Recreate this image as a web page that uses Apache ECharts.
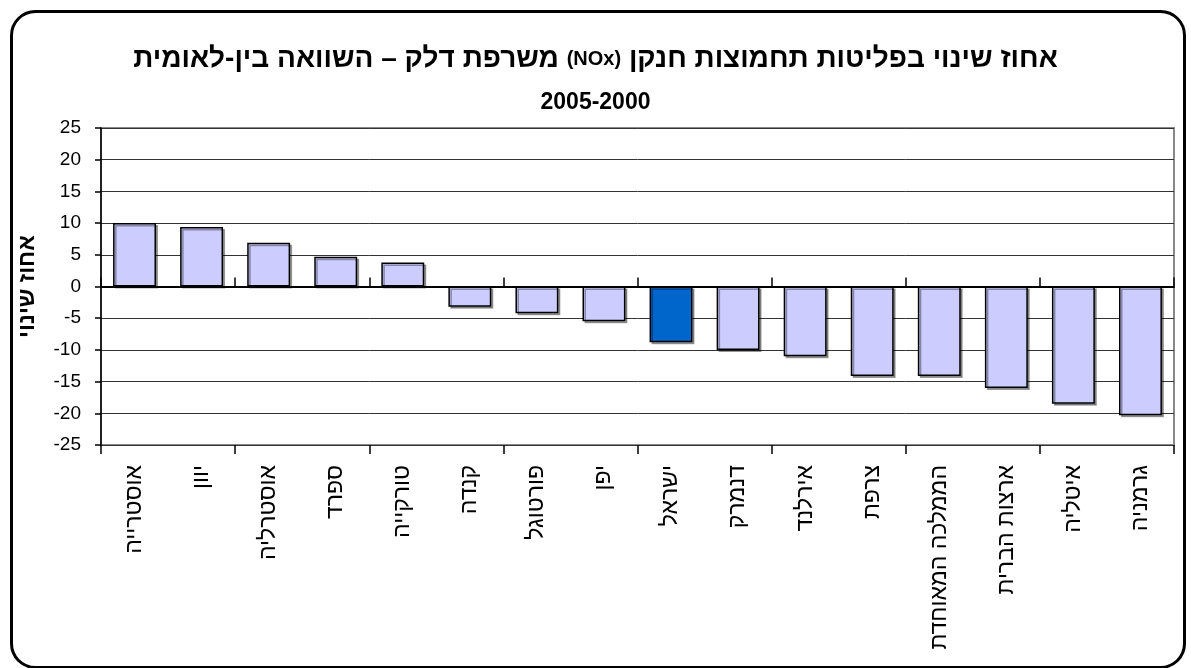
<!DOCTYPE html>
<html>
<head>
<meta charset="utf-8">
<script src="https://cdn.jsdelivr.net/npm/echarts@6/dist/echarts.min.js"></script>
<style>html,body{margin:0;padding:0;background:#fff;}#c{width:1191px;height:668px;}</style>
</head>
<body>
<div id="c"></div>
<script>
const categories = ['אוסטרייה','יוון','אוסטרליה','ספרד','טורקייה','קנדה','פורטוגל','יפן','ישראל','דנמרק','אירלנד','צרפת','הממלכה המאוחדת','ארצות הברית','איטליה','גרמניה'];
const values = [10.0, 9.4, 6.9, 4.7, 3.8, -3.2, -4.2, -5.5, -8.8, -10.0, -11.0, -14.1, -14.1, -16.0, -18.5, -20.3];
const highlighted = 'ישראל';
const titleRight = 'אחוז שינוי בפליטות תחמוצות חנקן';
const titleMid = '(NOx)';
const titleLeft = 'משרפת דלק – השוואה בין-לאומית';
const subtitle = '2005-2000';
const yName = 'אחוז שינוי';

const FONT = 'Liberation Sans, Arial, sans-serif';
const chart = echarts.init(document.getElementById('c'), null, {renderer: 'canvas'});
const barData = categories.map((c, i) => ({
  value: values[i],
  itemStyle: c === highlighted ? {color: '#0066CC'} : undefined
}));
const hiddenCat = {type: 'category', data: categories, position: 'bottom',
  axisLabel: {show: false}, splitLine: {show: false}};
chart.setOption({
  animation: false,
  backgroundColor: '#fff',
  graphic: [{
    type: 'rect', left: 9, top: 9, z: -1,
    shape: {width: 1173, height: 656, r: 24},
    style: {fill: 'none', stroke: '#000', lineWidth: 3}
  }],
  title: [{
    text: '{h|' + titleLeft + '} {n|' + titleMid + '} {h|' + titleRight + '}',
    left: 'center', top: 40,
    textStyle: {fontFamily: FONT, fontWeight: 'bold', fontSize: 28, color: '#000', rich: {
      h: {fontFamily: FONT, fontWeight: 'bold', fontSize: 28, color: '#000'},
      n: {fontFamily: FONT, fontWeight: 'bold', fontSize: 20, color: '#000'}
    }}
  }, {
    text: subtitle, left: 'center', top: 86,
    textStyle: {fontFamily: FONT, fontWeight: 'bold', fontSize: 23, color: '#000'}
  }],
  grid: {left: 101, right: 17, top: 128, bottom: 223, show: true, borderColor: '#888', borderWidth: 2, containLabel: false},
  xAxis: [
    {type: 'category', data: categories, position: 'bottom',
     axisLine: {show: false, onZero: false}, axisTick: {show: false},
     axisLabel: {rotate: 90, margin: 20, fontFamily: FONT, fontSize: 23, color: '#000', interval: 0},
     splitLine: {show: false}},
    Object.assign({}, hiddenCat, {axisLine: {show: true, onZero: true, lineStyle: {color: '#000', width: 2}},
      axisTick: {show: true, inside: true, length: 9, lineStyle: {color: '#000', width: 1.5}}}),
    Object.assign({}, hiddenCat, {axisLine: {show: false, onZero: true},
      axisTick: {show: true, inside: false, length: 9, lineStyle: {color: '#000', width: 1.5}}})
  ],
  yAxis: {
    type: 'value', min: -25, max: 25, interval: 5,
    name: yName, nameLocation: 'middle', nameGap: 62, nameRotate: 90,
    nameTextStyle: {fontFamily: FONT, fontWeight: 'bold', fontSize: 23, color: '#000'},
    axisLine: {show: true, lineStyle: {color: '#000', width: 1.5}},
    axisTick: {show: true, length: 6, lineStyle: {color: '#000', width: 1.5}},
    axisLabel: {margin: 20, fontFamily: FONT, fontSize: 19, color: '#000'},
    splitLine: {show: true, lineStyle: {color: '#333', width: 1}}
  },
  series: [{
    type: 'bar', xAxisIndex: 0, data: barData, barWidth: '64%',
    itemStyle: {color: '#CCCCFF', borderColor: '#000', borderWidth: 1.5,
      shadowColor: 'rgba(0,0,0,0.35)', shadowOffsetX: 2, shadowOffsetY: 2, shadowBlur: 0}
  }]
});
</script>
</body>
</html>
